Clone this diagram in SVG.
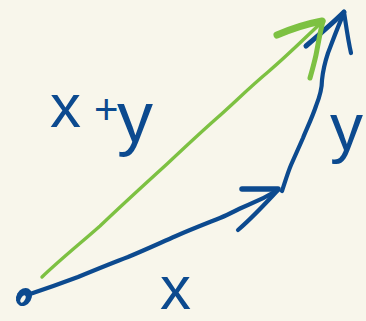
<svg xmlns="http://www.w3.org/2000/svg" width="366" height="321" viewBox="0 0 366 321">
<style>
.blue{fill:none;stroke:#0C4A8F;stroke-width:4.2;stroke-linecap:round;stroke-linejoin:round}
.green{fill:none;stroke:#7DC142;stroke-width:3.4;stroke-linecap:round;stroke-linejoin:round}
.lbl{font-family:"Liberation Sans","DejaVu Sans",sans-serif;fill:#0C4A8F;font-size:62px}
</style>
<rect width="366" height="321" fill="#F8F6EB"/>
<g id="origin">
<ellipse cx="24" cy="297" rx="7.5" ry="9.5" transform="rotate(30 24 297)" fill="#0C4A8F"/>
<ellipse cx="23" cy="299" rx="2" ry="4" transform="rotate(30 23 299)" fill="#F8F6EB"/>
</g>
<g id="connectors">
<g id="vec-x">
<path class="blue" d="M30,294 C45,289 62,283 78,277 C95,270 112,263 128,257 C145,250 160,243 176,236 C192,229 205,224 220,218 C232,213 240,208 248,205 C258,201 268,196 278,190"/>
<path class="blue" style="stroke-width:5.5" d="M242,189 L278,189"/>
<path class="blue" d="M238,230 C252,218 266,203 278,190"/>
</g>
<g id="vec-y">
<path class="blue" d="M282,191 C285,182 288,172 291,165 C295,156 299,147 303,138 C307,128 312,118 316,106 C320,96 322,88 322,80 C323,70 325,62 328,53 C333,40 338,26 344,13"/>
<path class="blue" style="stroke-width:5" d="M306,46 C320,34 334,22 344,12"/>
<path class="blue" d="M344,12 C346,25 348,40 351,53"/>
</g>
<g id="vec-sum">
<path class="green" d="M42,277 C62,258 82,242 100,226 C122,205 145,184 167,164 C184,148 200,133 217,118 C235,102 250,87 268,72 C288,55 306,37 322,22"/>
<path class="green" style="stroke-width:7" d="M277,35 C291,29 306,24 322,21"/>
<path class="green" style="stroke-width:5" d="M323,21 C320,32 318,45 316,55 C314,64 312,71 310,78"/>
</g>
</g>
<g id="labels">
<text class="lbl" y="127"><tspan x="50">x</tspan> <tspan x="94" y="124" font-size="42">+</tspan> <tspan x="117" y="142" font-size="72">y</tspan></text>
<text class="lbl" x="160" y="309">x</text>
<text class="lbl" x="330" y="150" style="font-size:66px">y</text>
</g>
</svg>
